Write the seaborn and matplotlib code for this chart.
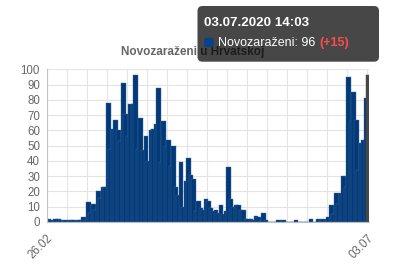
import matplotlib
matplotlib.use("Agg")
import matplotlib.pyplot as plt
import seaborn as sns
import pandas as pd
import numpy as np
from matplotlib.patches import FancyBboxPatch
from matplotlib.transforms import IdentityTransform

# ---------------- data ----------------
start_date = "2020-02-26"
report_time = "14:03"
cases = [
    2, 1, 0, 2, 2, 1, 0, 1, 0, 1, 1, 0, 1, 1, 3, 1,          # 26.02 - 12.03
    13, 6, 12, 8, 20, 16, 23, 23, 78, 48, 61, 67, 60, 53,     # 13.03 - 26.03
    91, 71, 56, 77, 77, 96, 48, 68, 47, 56, 40, 60, 61, 64,   # 27.03 - 09.04
    88, 39, 66, 50, 54, 37, 50, 23, 18, 39, 10, 27, 42, 31,   # 10.04 - 23.04
    28, 7, 14, 9, 8, 15, 14, 9, 7, 8, 6, 11, 5, 7,            # 24.04 - 07.05
    36, 15, 10, 11, 11, 8, 8, 2, 2, 2, 1, 4, 3, 1,            # 08.05 - 21.05
    6, 1, 0, 0, 0, 0, 1, 0, 1, 0, 0, 0, 0, 1,                 # 22.05 - 04.06
    0, 0, 0, 0, 0, 2, 0, 0, 2, 1, 2, 1, 3, 11,                # 05.06 - 18.06
    5, 19, 12, 19, 30, 23, 95, 66, 85, 67, 34, 52, 54, 81,    # 19.06 - 02.07
    96,                                                       # 03.07
]
x_tick_labels = ["26.02", "03.07"]
chart_title = "Novozaraženi u Hrvatskoj"
tooltip_title = "03.07.2020 14:03"
tooltip_label = "Novozaraženi: 96"
tooltip_delta = "(+15)"

# ---------------- styling ----------------
BAR = "#023a78"
EDGE = "#3f6a9c"
HOVER = "#474747"
GRID = "#e4e4e4"
TXT = "#666666"

sns.set_style("white")
plt.rcParams["font.family"] = ["Liberation Sans", "DejaVu Sans"]

W, H = 394, 268
fig = plt.figure(figsize=(W / 100, H / 100), dpi=100)
ax = fig.add_axes([46.7 / W, 1 - 222 / H, (369.3 - 46.7) / W, (222 - 69.3) / H])

hh, mm = map(int, report_time.split(":"))
dates = pd.date_range(start_date, periods=len(cases), freq="D") + pd.Timedelta(hours=hh, minutes=mm)
day = (dates - pd.Timestamp(start_date)) / pd.Timedelta(days=1)
df = pd.DataFrame({"day": np.asarray(day, dtype=float), "cases": cases})

sns.barplot(data=df, x="day", y="cases", native_scale=True, width=1.87,
            color=BAR, saturation=1, edgecolor=EDGE, linewidth=0.3,
            errorbar=None, ax=ax)
last = ax.patches[-1]
last.set_facecolor(HOVER)
last.set_edgecolor(HOVER)

n_days = len(cases) - 1
ax.set_xlim(0, n_days + 0.8)
ax.set_ylim(0, 100)
ticks = np.arange(0, n_days + 1, 8)
ax.set_xticks(ticks)
ax.set_xticklabels([x_tick_labels[0]] + [""] * (len(ticks) - 2) + [x_tick_labels[1]])
ax.set_yticks(range(0, 101, 10))
ax.set_xlabel("")
ax.set_ylabel("")
ax.grid(True, color=GRID, linewidth=0.8)
ax.set_axisbelow(True)
for s in ["top", "right"]:
    ax.spines[s].set_visible(False)
ax.spines["left"].set_color("#c4c4c4")
ax.spines["bottom"].set_color("#bdbdbd")
ax.spines["left"].set_linewidth(0.8)
ax.spines["bottom"].set_linewidth(0.8)
ax.tick_params(axis="y", length=3.6, width=0.8, color=GRID, labelsize=8.3,
               labelcolor=TXT, pad=1.2)
ax.tick_params(axis="x", length=7, width=0.8, color=GRID, labelsize=8.3,
               labelcolor=TXT, pad=0.5)
for lbl in ax.get_xticklabels():
    lbl.set_rotation(45)
    lbl.set_ha("right")
    lbl.set_va("top")
    lbl.set_rotation_mode("anchor")

# title (partly under the semi-transparent tooltip, as in the reference)
fig.text(193 / W, 1 - 52 / H, chart_title, ha="center", va="center",
         fontsize=8.5, fontweight="bold", color=TXT, zorder=5)

# tooltip (drawn in pixel coordinates)
box = FancyBboxPatch((197.5, H - 61.7), 181.5, 55.7,
                     boxstyle="round,pad=0,rounding_size=5",
                     transform=IdentityTransform(), facecolor="black",
                     alpha=0.72, edgecolor="none", zorder=10)
fig.patches.append(box)
fig.text(204 / W, 1 - 23 / H, tooltip_title, ha="left", va="center",
         fontsize=9.6, fontweight="bold", color="white", zorder=11)
sq = FancyBboxPatch((204.5, H - 47), 9, 9, boxstyle="round,pad=0,rounding_size=1.5",
                    transform=IdentityTransform(), facecolor="#0a4287",
                    edgecolor="#0a4287", linewidth=0.5, zorder=11)
fig.patches.append(sq)
t1 = fig.text(218 / W, 1 - 42.7 / H, tooltip_label, ha="left", va="center",
              fontsize=9.0, color="white", zorder=11)
fig.canvas.draw()
bb = t1.get_window_extent(renderer=fig.canvas.get_renderer())
fig.text(bb.x1 + 3.5, (bb.y0 + bb.y1) / 2, tooltip_delta,
         transform=IdentityTransform(), ha="left", va="center",
         fontsize=9.0, fontweight="bold", color="#ff4b4b", zorder=11)

fig.savefig("out.png", dpi=100)
